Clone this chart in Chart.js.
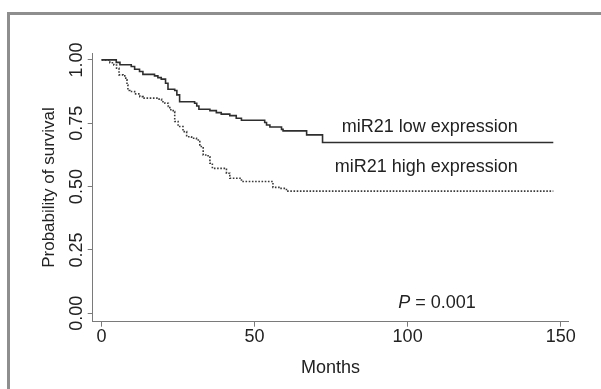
<!DOCTYPE html>
<html>
<head>
<meta charset="utf-8">
<script src="https://cdn.jsdelivr.net/npm/chart.js@4"></script>
<style>
  html, body { margin: 0; padding: 0; background: #fff; overflow: hidden; }
  #frame {
    position: absolute; left: 7px; top: 12px; width: 700px; height: 500px;
    border-left: 3px solid #8e8e8e; border-top: 3px solid #8e8e8e;
  }
  #wrap { position: absolute; left: 0; top: 0; width: 601px; height: 389px; }
</style>
</head>
<body>
<div id="frame"></div>
<div id="wrap"><canvas id="chart" width="601" height="389"></canvas></div>
<script>
// Kaplan-Meier steps (months, survival probability)
const lowMonths = [0, 4.8, 6.0, 9.7, 10.8, 12.4, 13.5, 17.3, 18.4, 19.5, 20.9, 21.7, 23.9, 24.6, 25.5,
    30.4, 31.1, 31.8, 35.4, 37.5, 39.1, 41.9, 44.0, 45.7, 53.3, 53.9, 55.0, 58.8, 59.3, 67.0, 72.2, 147.6];
const lowSurv = [1.0, 0.99, 0.981, 0.974, 0.963, 0.954, 0.943, 0.937, 0.93, 0.924, 0.908, 0.884, 0.879, 0.862, 0.835,
    0.829, 0.818, 0.805, 0.80, 0.792, 0.786, 0.78, 0.77, 0.762, 0.753, 0.743, 0.735, 0.726, 0.72, 0.704, 0.674, 0.674];

const highMonths = [0, 2.7, 4.0, 4.9, 5.7, 7.0, 7.9, 8.3, 8.6, 9.2, 10.8, 12.5, 13.6, 18.5, 19.6, 20.7, 21.8,
    22.3, 23.4, 23.9, 25.0, 26.6, 27.8, 29.4, 31.0, 32.1, 33.2, 34.8, 35.4, 36.2, 40.8, 41.9, 45.7, 56.0,
    58.2, 60.4, 147.6];
const highSurv = [1.0, 0.989, 0.98, 0.967, 0.941, 0.937, 0.921, 0.901, 0.879, 0.875, 0.866, 0.855, 0.849, 0.845,
    0.835, 0.829, 0.816, 0.803, 0.796, 0.757, 0.737, 0.717, 0.697, 0.691, 0.684, 0.658, 0.625, 0.618, 0.592,
    0.572, 0.553, 0.533, 0.52, 0.497, 0.493, 0.482, 0.482];

const xTicks = [0, 50, 100, 150];
const yTicks = [0, 0.25, 0.5, 0.75, 1.0];

const toPoints = (xs, ys) => xs.map((m, i) => ({ x: m, y: ys[i] }));

const FONT = "'Liberation Sans', Arial, Helvetica, sans-serif";
const AXIS = '#7a7a7a';

// labels placed in data coordinates
const notes = [
    { text: 'miR21 low expression', x: 136, y: 0.737, align: 'right' },
    { text: 'miR21 high expression', x: 136, y: 0.579, align: 'right' }
];

const notesPlugin = {
    id: 'notes',
    afterDatasetsDraw(chart) {
        const ctx = chart.ctx;
        const xs = chart.scales.x, ys = chart.scales.y;
        ctx.save();
        ctx.fillStyle = '#222';
        ctx.textBaseline = 'middle';
        ctx.font = '18px ' + FONT;
        notes.forEach(n => {
            ctx.textAlign = n.align;
            ctx.fillText(n.text, xs.getPixelForValue(n.x), ys.getPixelForValue(n.y));
        });
        // P value, italic P
        let px = xs.getPixelForValue(96.9), py = ys.getPixelForValue(0.041);
        ctx.textAlign = 'left';
        ctx.font = 'italic 18px ' + FONT;
        ctx.fillText('P', px, py);
        px += ctx.measureText('P').width;
        ctx.font = '18px ' + FONT;
        ctx.fillText(' = 0.001', px, py);
        ctx.restore();
    }
};

new Chart(document.getElementById('chart').getContext('2d'), {
    type: 'line',
    data: {
        datasets: [{
            label: 'miR21 low expression',
            data: toPoints(lowMonths, lowSurv),
            borderColor: '#2e2e2e',
            borderWidth: 1.6,
            stepped: 'before',
            pointRadius: 0,
            fill: false
        }, {
            label: 'miR21 high expression',
            data: toPoints(highMonths, highSurv),
            borderColor: '#3a3a3a',
            borderWidth: 1.6,
            borderDash: [1.6, 1.6],
            stepped: 'before',
            pointRadius: 0,
            fill: false
        }]
    },
    options: {
        responsive: false,
        animation: false,
        layout: { padding: { left: 0, top: 53.3, right: 32.7, bottom: 0 } },
        plugins: {
            legend: { display: false },
            tooltip: { enabled: false }
        },
        scales: {
            x: {
                type: 'linear',
                min: -2.9,
                max: 152.5,
                afterBuildTicks(scale) { scale.ticks = xTicks.map(v => ({ value: v })); },
                afterFit(scale) { scale.height = 67.3; },
                grid: { drawOnChartArea: false, drawTicks: true, tickLength: 5, color: AXIS },
                border: { display: true, color: AXIS, width: 1 },
                ticks: { color: '#222', font: { family: FONT, size: 18 }, padding: 0, maxRotation: 0 },
                title: {
                    display: true, text: 'Months', color: '#222',
                    font: { family: FONT, size: 18 }, padding: { top: 0, bottom: 10 }
                }
            },
            y: {
                type: 'linear',
                min: -0.033,
                max: 1.026,
                afterBuildTicks(scale) { scale.ticks = yTicks.map(v => ({ value: v })); },
                afterFit(scale) { scale.width = 92.7; },
                grid: { drawOnChartArea: false, drawTicks: true, tickLength: 5, color: AXIS },
                border: { display: true, color: AXIS, width: 1 },
                ticks: {
                    color: '#222', font: { family: FONT, size: 18 },
                    minRotation: 90, maxRotation: 90, crossAlign: 'center', padding: -6.5,
                    callback: v => v.toFixed(2)
                },
                title: {
                    display: true, text: 'Probability of survival', color: '#222',
                    font: { family: FONT, size: 17 }, padding: { top: 38.8, bottom: 0 }
                }
            }
        }
    },
    plugins: [notesPlugin]
});
</script>
</body>
</html>
